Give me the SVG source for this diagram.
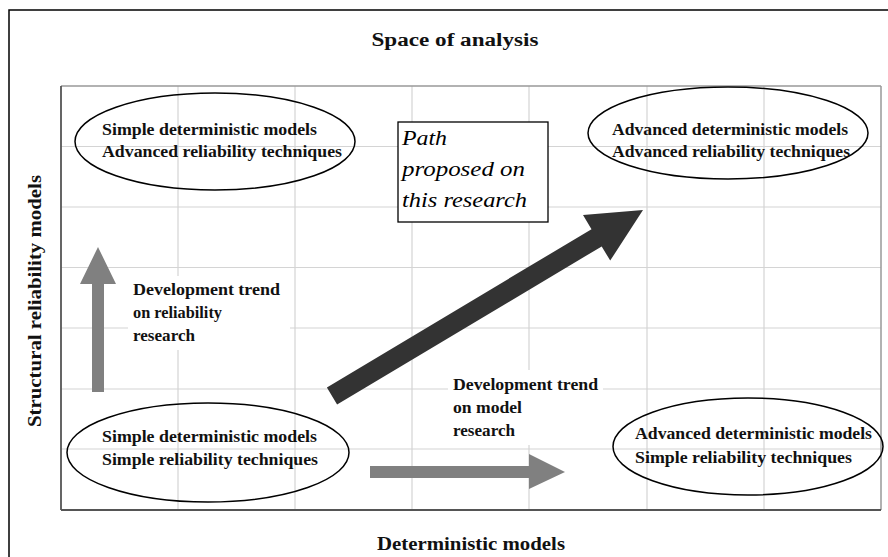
<svg xmlns="http://www.w3.org/2000/svg" width="888" height="557" viewBox="0 0 888 557">
<style>
.grid{stroke:#d4d4d4;stroke-width:1.2;fill:none}
.lbl{font-family:"Liberation Serif","Times New Roman",serif;font-weight:bold;font-size:17px;fill:#111}
.sm{font-size:16px}
.ttl{font-family:"Liberation Serif","Times New Roman",serif;font-weight:bold;font-size:18px;fill:#111}
.ell{fill:none;stroke:#000;stroke-width:1.5}
.path{font-family:"Liberation Serif","Times New Roman",serif;font-style:italic;font-size:22px;fill:#000}
</style>
<rect x="0" y="0" width="888" height="557" fill="#fff"/>
<rect x="9" y="10" width="900" height="570" fill="#fff" stroke="#000" stroke-width="1.5"/>
<text class="ttl" x="455" y="46" text-anchor="middle" textLength="167" lengthAdjust="spacingAndGlyphs">Space of analysis</text>
<g id="plot">
<g class="grid">
<line x1="178" y1="86" x2="178" y2="510"/>
<line x1="295" y1="86" x2="295" y2="510"/>
<line x1="412" y1="86" x2="412" y2="510"/>
<line x1="529" y1="86" x2="529" y2="510"/>
<line x1="647" y1="86" x2="647" y2="510"/>
<line x1="764" y1="86" x2="764" y2="510"/>
<line x1="61" y1="146.5" x2="881" y2="146.5"/>
<line x1="61" y1="207" x2="881" y2="207"/>
<line x1="61" y1="267.5" x2="881" y2="267.5"/>
<line x1="61" y1="328" x2="881" y2="328"/>
<line x1="61" y1="389" x2="881" y2="389"/>
<line x1="61" y1="449" x2="881" y2="449"/>
</g>
<line x1="61" y1="86" x2="881" y2="86" stroke="#999" stroke-width="1.5"/>
<line x1="881" y1="86" x2="881" y2="510" stroke="#999" stroke-width="1.5"/>
<line x1="61" y1="86" x2="61" y2="510" stroke="#555" stroke-width="1.8"/>
<line x1="61" y1="510" x2="881" y2="510" stroke="#555" stroke-width="1.8"/>
</g>
<text class="ttl" x="471" y="550" text-anchor="middle" textLength="188" lengthAdjust="spacingAndGlyphs">Deterministic models</text>
<text class="ttl" transform="translate(41,301) rotate(-90)" text-anchor="middle" textLength="252" lengthAdjust="spacingAndGlyphs">Structural reliability models</text>
<g id="connectors">
<polygon id="arrow-path" points="326.9,387.4 591.5,229.2 583,215 643,210 610.2,260.6 601.7,246.4 337.1,404.6" fill="#333"/>
<polygon id="arrow-reliability" points="92,392 92,284 80,284 98,247 116,284 104,284 104,392" fill="#808080"/>
<polygon id="arrow-model" points="370,466 529,466 529,454 565,472 529,489 529,478 370,478" fill="#808080"/>
</g>
<g id="node-tl">
<ellipse class="ell" cx="215" cy="141.5" rx="140" ry="48.5"/>
<text class="lbl" x="102" y="135" textLength="215" lengthAdjust="spacingAndGlyphs">Simple deterministic models</text>
<text class="lbl" x="102" y="157" textLength="240" lengthAdjust="spacingAndGlyphs">Advanced reliability techniques</text>
</g>
<g id="node-tr">
<ellipse class="ell" cx="728" cy="133" rx="140" ry="46"/>
<text class="lbl" x="612" y="135" textLength="236" lengthAdjust="spacingAndGlyphs">Advanced deterministic models</text>
<text class="lbl" x="612" y="157" textLength="238" lengthAdjust="spacingAndGlyphs">Advanced reliability techniques</text>
</g>
<g id="node-bl">
<ellipse class="ell" cx="208" cy="452.5" rx="141" ry="49.5"/>
<text class="lbl" x="102" y="442" textLength="215" lengthAdjust="spacingAndGlyphs">Simple deterministic models</text>
<text class="lbl" x="102" y="465" textLength="216" lengthAdjust="spacingAndGlyphs">Simple reliability techniques</text>
</g>
<g id="node-br">
<ellipse class="ell" cx="748" cy="446.5" rx="135" ry="48.5"/>
<text class="lbl" x="635" y="439" textLength="237" lengthAdjust="spacingAndGlyphs">Advanced deterministic models</text>
<text class="lbl" x="635" y="463" textLength="217" lengthAdjust="spacingAndGlyphs">Simple reliability techniques</text>
</g>
<g id="node-path">
<rect x="398" y="122" width="150" height="100" fill="#fff" stroke="#000" stroke-width="1.3"/>
<text class="path" x="402" y="145" textLength="45" lengthAdjust="spacingAndGlyphs">Path</text>
<text class="path" x="402" y="176" textLength="123" lengthAdjust="spacingAndGlyphs">proposed on</text>
<text class="path" x="402" y="207" textLength="125" lengthAdjust="spacingAndGlyphs">this research</text>
</g>
<g id="label-reliability">
<rect x="128" y="276" width="162" height="74" fill="#fff"/>
<text class="lbl sm" x="133" y="295" textLength="147" lengthAdjust="spacingAndGlyphs">Development trend</text>
<text class="lbl sm" x="133" y="318" textLength="89" lengthAdjust="spacingAndGlyphs">on reliability</text>
<text class="lbl sm" x="133" y="341" textLength="62" lengthAdjust="spacingAndGlyphs">research</text>
</g>
<g id="label-model">
<rect x="448" y="370" width="155" height="75" fill="#fff"/>
<text class="lbl sm" x="453" y="390" textLength="145" lengthAdjust="spacingAndGlyphs">Development trend</text>
<text class="lbl sm" x="453" y="413" textLength="69" lengthAdjust="spacingAndGlyphs">on model</text>
<text class="lbl sm" x="453" y="436" textLength="62" lengthAdjust="spacingAndGlyphs">research</text>
</g>
</svg>
